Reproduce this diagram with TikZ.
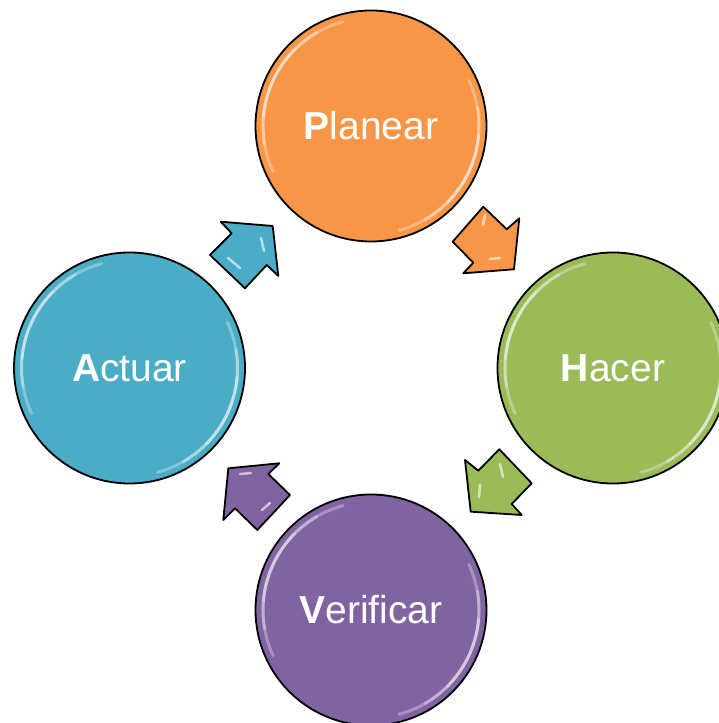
\documentclass[tikz,border=0pt]{standalone}
\usepackage{fontspec}
\setmainfont{Liberation Sans}
\usetikzlibrary{calc}
\definecolor{cOrange}{HTML}{F79646}
\definecolor{cGreen}{HTML}{9BBB59}
\definecolor{cPurple}{HTML}{8064A2}
\definecolor{cBlue}{HTML}{4BACC6}
\tikzset{
  ball/.style={circle, draw=black, line width=1.8pt, minimum size=231pt, inner sep=0pt,
    text=white, font=\fontsize{39}{39}\selectfont},
  blockarrow/.style={draw=black, line width=1.8pt, line join=round},
  gloss/.style={white, line width=3pt, line cap=round, opacity=0.3},
  shine/.style={white, line width=2.5pt, line cap=round, opacity=0.6},
}
\begin{document}
\begin{tikzpicture}[x=1pt,y=1pt]
\useasboundingbox (0,0) rectangle (719,723);
\fill[white] (0,0) rectangle (719,723);
% circles
\node[ball, fill=cOrange] (P) at (371,597) {\textbf{P}lanear};
\node[ball, fill=cGreen] (H) at (613,355) {\textbf{H}acer};
\node[ball, fill=cPurple] (V) at (371,113) {\textbf{V}erificar};
\node[ball, fill=cBlue] (A) at (129.5,355) {\textbf{A}ctuar};
% gloss highlights
\foreach \n in {P,H,V,A}{
  \draw[gloss] ($(\n)+(105:108pt)$) arc[start angle=105, end angle=205, radius=108pt];
  \draw[gloss] ($(\n)+(120:108pt)$) arc[start angle=120, end angle=190, radius=108pt];
  \draw[gloss] ($(\n)+(135:108pt)$) arc[start angle=135, end angle=175, radius=108pt];
  \draw[gloss] ($(\n)+(-75:108pt)$) arc[start angle=-75, end angle=25, radius=108pt];
  \draw[gloss] ($(\n)+(-60:108pt)$) arc[start angle=-60, end angle=10, radius=108pt];
  \draw[gloss] ($(\n)+(-45:108pt)$) arc[start angle=-45, end angle=-5, radius=108pt];
}
% block arrows
\draw[blockarrow, fill=cBlue] (220.7,501.3) -- (272.7,497) -- (278.3,447) -- (266.7,458)
  -- (245,434.7) -- (210,468) -- (231.7,489.7) -- cycle;
\draw[blockarrow, fill=cOrange] (483.3,516.3) -- (506.7,493.7) -- (519.3,504.7) -- (514,453.7)
  -- (463.3,449.7) -- (473.3,460.3) -- (452.7,481.3) -- cycle;
\draw[blockarrow, fill=cGreen] (499.3,273.7) -- (531.7,239.7) -- (511.7,219) -- (521.7,208)
  -- (470.7,211.3) -- (465,263) -- (478.3,252.3) -- cycle;
\draw[blockarrow, fill=cPurple] (228.3,254.7) -- (279.3,259.7) -- (268.3,249) -- (290,228)
  -- (257.3,193) -- (235,214.7) -- (223.3,203) -- cycle;
% arrow shine
\draw[shine] (261,485) -- (264,472);
\draw[shine] (228,465) -- (240,455);
\draw[shine] (485,508) -- (483,498);
\draw[shine] (490,464) -- (500,465);
\draw[shine] (500,259) -- (503,246);
\draw[shine] (480,238) -- (479,226);
\draw[shine] (240,249) -- (251,250);
\draw[shine] (262,213) -- (270,220);
\end{tikzpicture}
\end{document}
